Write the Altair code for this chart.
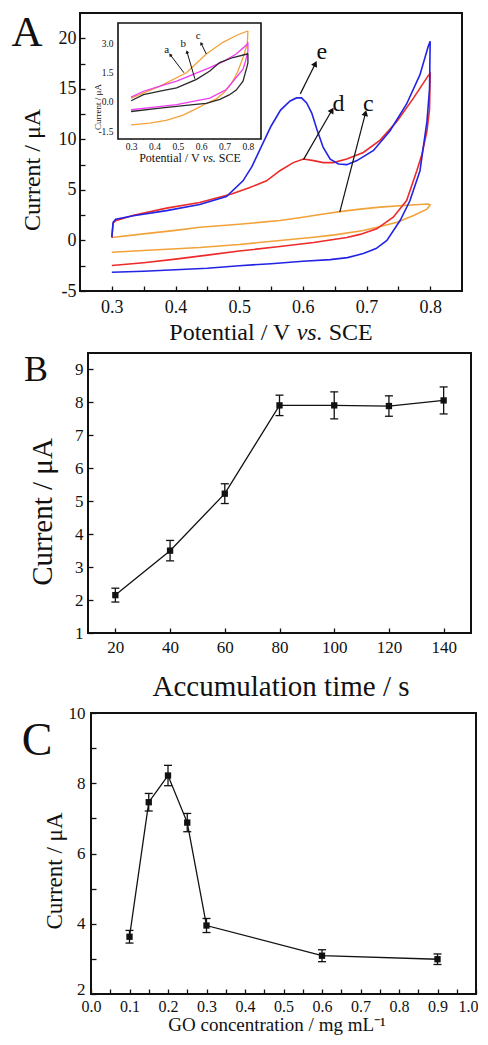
import math
import altair as alt
import pandas as pd

FONT = "Liberation Serif"
INK = "#111111"

# ---------------- Panel A: main CV curves ----------------
e_x = [0.300, 0.302, 0.306, 0.334, 0.386, 0.438, 0.480, 0.506, 0.520, 0.535, 0.550, 0.565, 0.580,
       0.590, 0.598, 0.606, 0.614, 0.622, 0.632, 0.643, 0.656, 0.669, 0.685, 0.711, 0.737, 0.763,
       0.784, 0.797, 0.800,
       0.799, 0.795, 0.784, 0.768, 0.753, 0.732, 0.715, 0.695, 0.670, 0.643, 0.600, 0.550, 0.500,
       0.450, 0.400, 0.350, 0.300]
e_y = [0.3, 1.8, 2.1, 2.45, 2.95, 3.55, 4.35, 5.9, 7.3, 9.3, 11.3, 12.9, 13.8,
       14.1, 14.1, 13.6, 12.6, 11.0, 9.2, 8.05, 7.56, 7.5, 7.9, 8.9, 10.85, 13.5,
       16.4, 19.2, 19.7,
       15.0, 11.8, 6.9, 3.9, 2.0, 0.0, -0.8, -1.3, -1.7, -1.9, -2.05, -2.3, -2.5,
       -2.75, -2.9, -3.05, -3.14]

d_x = [0.300, 0.302, 0.306, 0.334, 0.386, 0.438, 0.488, 0.517, 0.543, 0.564, 0.585, 0.601, 0.617,
       0.632, 0.648, 0.669, 0.695, 0.721, 0.748, 0.774, 0.797, 0.800,
       0.799, 0.795, 0.787, 0.779, 0.763, 0.742, 0.716, 0.690, 0.669, 0.617, 0.564, 0.500, 0.450,
       0.400, 0.350, 0.300]
d_y = [0.3, 1.7, 1.95, 2.5, 3.2, 3.75, 4.6, 5.25, 5.9, 6.9, 7.7, 8.05, 7.9,
       7.7, 7.7, 8.05, 8.7, 9.9, 11.8, 14.1, 16.3, 16.5,
       13.0, 10.85, 8.5, 6.9, 3.95, 2.3, 1.15, 0.6, 0.3, -0.2, -0.6, -1.05, -1.45,
       -1.85, -2.2, -2.48]

c_x = [0.300, 0.350, 0.400, 0.438, 0.500, 0.564, 0.600, 0.630, 0.658, 0.690, 0.721, 0.770, 0.797, 0.800,
       0.795, 0.774, 0.748, 0.720, 0.695, 0.650, 0.617, 0.564, 0.500, 0.438, 0.350, 0.300]
c_y = [0.3, 0.65, 1.0, 1.3, 1.6, 1.98, 2.3, 2.6, 2.85, 3.1, 3.3, 3.5, 3.6, 3.5,
       3.1, 2.46, 1.8, 1.35, 0.98, 0.55, 0.32, 0.0, -0.4, -0.7, -1.0, -1.17]

mainLab = ["e", "d", "c"]
mainLabX = [0.630, 0.656, 0.703]
mainLabY = [18.6, 13.5, 13.5]
mainTailX = [0.596, 0.601, 0.658]
mainTailY = [14.5, 8.0, 2.8]
mainHeadX = [0.619, 0.645, 0.698]
mainHeadY = [17.4, 12.8, 12.5]

# ---------------- Panel A: inset curves ----------------
a_x = [0.300, 0.353, 0.424, 0.495, 0.580, 0.637, 0.679, 0.736, 0.797, 0.800,
       0.800, 0.797, 0.779, 0.750, 0.720, 0.680, 0.622, 0.566, 0.424, 0.300]
a_y = [0.05, 0.37, 0.55, 0.71, 1.15, 1.58, 2.01, 2.27, 2.45, 2.45,
       2.0, 1.84, 1.06, 0.6, 0.35, 0.12, -0.08, -0.15, -0.33, -0.5]

b_x = [0.300, 0.353, 0.424, 0.495, 0.566, 0.637, 0.700, 0.750, 0.797, 0.800,
       0.800, 0.790, 0.779, 0.708, 0.637, 0.566, 0.495, 0.400, 0.300]
b_y = [0.24, 0.54, 0.8, 1.06, 1.4, 1.75, 2.1, 2.45, 2.95, 3.05,
       2.6, 2.1, 1.67, 0.63, 0.19, 0.02, -0.15, -0.28, -0.41]

ci_x = [0.300, 0.424, 0.537, 0.622, 0.693, 0.750, 0.797, 0.800,
        0.797, 0.780, 0.755, 0.730, 0.700, 0.665, 0.620, 0.580, 0.520, 0.450, 0.380, 0.300]
ci_y = [0.19, 0.8, 1.49, 2.45, 3.05, 3.4, 3.62, 3.6,
        2.96, 2.3, 1.5, 0.95, 0.5, 0.15, -0.1, -0.35, -0.7, -0.95, -1.1, -1.19]

insLab = ["a", "b", "c"]
insLabX = [0.452, 0.523, 0.587]
insLabY = [2.67, 2.97, 3.36]
insTailX = [0.526, 0.573, 0.622]
insTailY = [1.49, 1.18, 2.45]
insHeadX = [0.469, 0.540, 0.601]
insHeadY = [2.39, 2.53, 2.97]

# ---------------- Panel B ----------------
timeB = [20, 40, 60, 80, 100, 120, 140]
curB = [2.15, 3.50, 5.23, 7.91, 7.91, 7.89, 8.06]
errB = [0.21, 0.31, 0.30, 0.31, 0.41, 0.31, 0.41]

# ---------------- Panel C ----------------
concC = [0.10, 0.15, 0.20, 0.25, 0.30, 0.60, 0.90]
curC = [3.63, 7.46, 8.22, 6.88, 3.95, 3.09, 2.99]
errC = [0.18, 0.25, 0.29, 0.26, 0.20, 0.17, 0.15]

# ---------------- sizes / scales ----------------
A_W, A_H = 382, 278
B_W, B_H = 391, 280   # plot frame starts 8 px in
C_W, C_H = 396, 281   # plot frame starts 11 px in
B_X0, C_X0 = 8, 11

A_XDOM, A_YDOM = [0.25, 0.85], [-5, 22.5]
I_XDOM, I_YDOM = [0.244, 0.856], [-1.91, 4.04]
I_XRNG, I_YRNG = [38, 181], [126, 10]
B_XDOM, B_YDOM = [10, 150], [1, 9.5]
C_XDOM, C_YDOM = [0.0, 1.0], [2, 10]

BLUE, RED, ORANGE, MAGENTA, DARK = "#2323e6", "#ec2a2a", "#f3a23a", "#ee3cee", "#2a2a2a"

TENTHS = "abs(datum.value*10 - round(datum.value*10)) < 0.001 ? format(datum.value, '.1f') : ''"
HYPH0 = "(datum.value < 0 ? '-' : '') + format(abs(datum.value), 'd')"


def curve_df(xs, ys, name, color):
    return pd.DataFrame({"x": xs, "y": ys, "k": name, "col": color, "i": list(range(len(xs)))})


def axis(values, size, pad, **kw):
    d = dict(values=values, tickSize=5, offset=-5, domain=False, grid=False,
             labelFontSize=size, labelPadding=pad, labelOverlap=False, labelFlush=False,
             labelFont=FONT, labelColor=INK, title="", tickWidth=1.3, tickColor=INK)
    d.update(kw)
    return alt.Axis(**d)


def arrows(labs, lx, ly, tx, ty, hx, hy, sx, sy):
    ang = [math.degrees(math.atan2((h1 - t1) * sx, (h2 - t2) * sy)) % 360
           for t1, t2, h1, h2 in zip(tx, ty, hx, hy)]
    return pd.DataFrame({"lab": labs, "lx": lx, "ly": ly, "tx": tx, "ty": ty,
                         "hx": hx, "hy": hy, "ang": ang})


def ghost(x, y0, y1):
    return alt.Chart(pd.DataFrame({"g": [0]})).mark_rule(color="white", strokeWidth=0.5).encode(
        x=alt.value(x), y=alt.value(y0), y2=alt.value(y1))


def txt(s, x, y, size, align="center", baseline="alphabetic", angle=0, style="normal"):
    return alt.Chart(pd.DataFrame({"s": [s]})).mark_text(
        font=FONT, fontSize=size, color=INK, align=align, baseline=baseline, angle=angle,
        fontStyle=style).encode(x=alt.value(x), y=alt.value(y), text="s:N")


def vs_title(cx, y, size):
    # "Potential / V vs. SCE" with italic "vs."
    em = size
    w1, w2, w3, sp = 5.056 * em, 1.083 * em, 1.834 * em, 0.25 * em
    x0 = cx - (w1 + sp + w2 + sp + w3) / 2
    return [txt("Potential / V", x0, y, size, align="left"),
            txt("vs.", x0 + w1 + sp, y, size, align="left", style="italic"),
            txt("SCE", x0 + w1 + sp + w2 + sp, y, size, align="left")]


def frame(xdom, ydom, xs, ys, ax_x, ax_y, fill=False, sw=2):
    df = pd.DataFrame({"x0": [xdom[0]], "x1": [xdom[1]], "y0": [ydom[0]], "y1": [ydom[1]]})
    mk = alt.Chart(df).mark_rect(fill="white", stroke=INK, strokeWidth=sw) if fill else \
        alt.Chart(df).mark_rect(fillOpacity=0, stroke=INK, strokeWidth=sw)
    return mk.encode(x=alt.X("x0:Q", scale=xs, axis=ax_x), x2="x1:Q",
                     y=alt.Y("y0:Q", scale=ys, axis=ax_y), y2="y1:Q")


def errorpanel(df, xf, xs, ys, ax_x, ax_y):
    base = alt.Chart(df)
    X = alt.X(xf + ":Q", scale=xs, axis=ax_x)
    line = base.mark_line(color=INK, strokeWidth=1.3).encode(x=X, y=alt.Y("v:Q", scale=ys, axis=ax_y))
    bar = base.mark_rule(color=INK, strokeWidth=1.3).encode(
        x=X, y=alt.Y("lo:Q", scale=ys, axis=ax_y), y2="hi:Q")
    lo = base.mark_tick(orient="horizontal", size=8, thickness=1.3, color=INK, opacity=1).encode(
        x=X, y=alt.Y("lo:Q", scale=ys, axis=ax_y))
    hi = base.mark_tick(orient="horizontal", size=8, thickness=1.3, color=INK, opacity=1).encode(
        x=X, y=alt.Y("hi:Q", scale=ys, axis=ax_y))
    pt = base.mark_point(shape="square", filled=True, size=40, color=INK, opacity=1).encode(
        x=X, y=alt.Y("v:Q", scale=ys, axis=ax_y))
    return [line, bar, lo, hi, pt]


# ================= Panel A =================
xA = alt.Scale(domain=A_XDOM, nice=False, zero=False)
yA = alt.Scale(domain=A_YDOM, nice=False, zero=False)
axAx = axis([round(0.3 + 0.05 * i, 2) for i in range(11)], 18, 7, labelExpr=TENTHS)
axAy = axis([-5 + 2.5 * i for i in range(11)], 18, 4,
            labelExpr="datum.value % 5 == 0 ? " + HYPH0 + " : ''")

dfA = pd.concat([curve_df(c_x, c_y, "c", ORANGE), curve_df(d_x, d_y, "d", RED),
                 curve_df(e_x, e_y, "e", BLUE)], ignore_index=True)
cvA = alt.Chart(dfA).mark_line(strokeWidth=1.6).encode(
    x=alt.X("x:Q", scale=xA, axis=axAx), y=alt.Y("y:Q", scale=yA, axis=axAy),
    color=alt.Color("col:N", scale=None), detail="k:N", order="i:Q")

arA = arrows(mainLab, mainLabX, mainLabY, mainTailX, mainTailY, mainHeadX, mainHeadY,
             A_W / (A_XDOM[1] - A_XDOM[0]), A_H / (A_YDOM[1] - A_YDOM[0]))
bA = alt.Chart(arA)
ruleA = bA.mark_rule(color=INK, strokeWidth=1.2).encode(
    x=alt.X("tx:Q", scale=xA, axis=axAx), y=alt.Y("ty:Q", scale=yA, axis=axAy), x2="hx:Q", y2="hy:Q")
headA = bA.mark_point(shape="triangle", filled=True, size=45, color=INK, opacity=1).encode(
    x=alt.X("hx:Q", scale=xA, axis=axAx), y=alt.Y("hy:Q", scale=yA, axis=axAy),
    angle=alt.Angle("ang:Q", scale=None))
textA = bA.mark_text(font=FONT, fontSize=24, color=INK).encode(
    x=alt.X("lx:Q", scale=xA, axis=axAx), y=alt.Y("ly:Q", scale=yA, axis=axAy), text="lab:N")

mainA = alt.layer(frame(A_XDOM, A_YDOM, xA, yA, axAx, axAy), cvA, ruleA, headA, textA,
                  txt("A", -53, 33, 43),
                  txt("Current / μA", -47, 157, 24, baseline="middle", angle=270),
                  *vs_title(191, 327, 24),
                  ghost(-71, -4, 336))

# inset
xI = alt.Scale(domain=I_XDOM, range=I_XRNG, nice=False, zero=False)
yI = alt.Scale(domain=I_YDOM, range=I_YRNG, nice=False, zero=False)
axIx = alt.Axis(orient="bottom", values=[round(0.3 + 0.05 * i, 2) for i in range(11)],
                labelExpr=TENTHS, tickSize=3, offset=-(A_H - I_YRNG[0]) - 3, labelPadding=2,
                labelFontSize=9.5, labelFont=FONT, labelColor=INK, title="",
                domain=False, grid=False, labelOverlap=False,
                labelFlush=False, tickWidth=1, tickColor=INK)
axIy = alt.Axis(orient="left", values=[-1.5, 0.0, 1.5, 3.0],
                labelExpr="(datum.value < 0 ? '-' : '') + format(abs(datum.value), '.1f')",
                tickSize=3, offset=-(I_XRNG[0] + 3), labelPadding=5, labelFontSize=9.5,
                labelFont=FONT, labelColor=INK, title="",
                domain=False, grid=False, labelOverlap=False, labelFlush=False,
                tickWidth=1, tickColor=INK)

dfI = pd.concat([curve_df(ci_x, ci_y, "c", ORANGE), curve_df(b_x, b_y, "b", MAGENTA),
                 curve_df(a_x, a_y, "a", DARK)], ignore_index=True)
cvI = alt.Chart(dfI).mark_line(strokeWidth=1.3).encode(
    x=alt.X("x:Q", scale=xI, axis=axIx), y=alt.Y("y:Q", scale=yI, axis=axIy),
    color=alt.Color("col:N", scale=None), detail="k:N", order="i:Q")

arI = arrows(insLab, insLabX, insLabY, insTailX, insTailY, insHeadX, insHeadY,
             (I_XRNG[1] - I_XRNG[0]) / (I_XDOM[1] - I_XDOM[0]),
             (I_YRNG[0] - I_YRNG[1]) / (I_YDOM[1] - I_YDOM[0]))
bI = alt.Chart(arI)
ruleI = bI.mark_rule(color=INK, strokeWidth=1).encode(
    x=alt.X("tx:Q", scale=xI, axis=axIx), y=alt.Y("ty:Q", scale=yI, axis=axIy), x2="hx:Q", y2="hy:Q")
headI = bI.mark_point(shape="triangle", filled=True, size=14, color=INK, opacity=1).encode(
    x=alt.X("hx:Q", scale=xI, axis=axIx), y=alt.Y("hy:Q", scale=yI, axis=axIy),
    angle=alt.Angle("ang:Q", scale=None))
textI = bI.mark_text(font=FONT, fontSize=11, color=INK).encode(
    x=alt.X("lx:Q", scale=xI, axis=axIx), y=alt.Y("ly:Q", scale=yI, axis=axIy), text="lab:N")

insetA = alt.layer(frame(I_XDOM, I_YDOM, xI, yI, axIx, axIy, fill=True, sw=1.6),
                   cvI, ruleI, headI, textI,
                   txt("Current / μA", 18, 94, 9, baseline="middle", angle=270),
                   *vs_title(110, 149, 12))

panelA = alt.layer(mainA, insetA).resolve_scale(x="independent", y="independent").properties(
    width=A_W, height=A_H)

# ================= Panel B =================
dfB = pd.DataFrame({"t": timeB, "v": curB,
                    "lo": [v - e for v, e in zip(curB, errB)],
                    "hi": [v + e for v, e in zip(curB, errB)]})
xB = alt.Scale(domain=B_XDOM, range=[B_X0, B_W], nice=False, zero=False)
yB = alt.Scale(domain=B_YDOM, nice=False, zero=False)
axBx = axis(timeB, 17, 6)
axBy = axis(list(range(1, 10)), 17, 5, offset=-(B_X0 + 5))
panelB = alt.layer(frame(B_XDOM, B_YDOM, xB, yB, axBx, axBy),
                   *errorpanel(dfB, "t", xB, yB, axBx, axBy),
                   txt("B", -44, 28, 36),
                   txt("Current / μA", -37, 159, 29, baseline="middle", angle=270),
                   txt("Accumulation time / s", 201, 343, 29),
                   ghost(-71, -10, 350)).properties(width=B_W, height=B_H)

# ================= Panel C =================
dfC = pd.DataFrame({"c": concC, "v": curC,
                    "lo": [v - e for v, e in zip(curC, errC)],
                    "hi": [v + e for v, e in zip(curC, errC)]})
xC = alt.Scale(domain=C_XDOM, range=[C_X0, C_W], nice=False, zero=False)
yC = alt.Scale(domain=C_YDOM, nice=False, zero=False)
axCx = axis([round(0.05 * i, 2) for i in range(21)], 16, 4, labelExpr=TENTHS,
            labelAlign={"condition": {"test": "datum.value > 0.99", "value": "right"}, "value": "center"},
            labelOffset={"condition": {"test": "datum.value > 0.99", "value": 2}, "value": 0})
axCy = axis(list(range(2, 11)), 17, 6, offset=-(C_X0 + 5),
            labelExpr="datum.value % 2 == 0 ? format(datum.value, 'd') : ''",
            labelOffset={"condition": {"test": "datum.value < 2.5", "value": -5}, "value": 0})
panelC = alt.layer(frame(C_XDOM, C_YDOM, xC, yC, axCx, axCy),
                   *errorpanel(dfC, "c", xC, yC, axCx, axCy),
                   txt("C", -43, 42, 46),
                   txt("Current / μA", -25, 158, 23, baseline="middle", angle=270),
                   txt("GO concentration / mg mL⁻¹", 197, 318, 19),
                   ghost(-71, -16, 300)).properties(width=C_W, height=C_H)

chart = alt.vconcat(panelA, panelB, panelC, spacing=-8).properties(padding=0).configure_view(
    stroke=None).configure_axis(labelFont=FONT, labelColor=INK)

chart.save("out.html", embed_options={"renderer": "svg", "actions": False})
